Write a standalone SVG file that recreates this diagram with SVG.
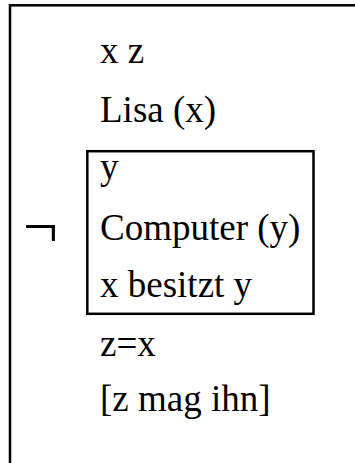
<svg xmlns="http://www.w3.org/2000/svg" width="355" height="463" viewBox="0 0 355 463">
  <style>
    .box { fill: none; stroke: #000; stroke-width: 2.5; }
    .t { font-family: "Liberation Serif", "Times New Roman", serif; font-size: 37px; fill: #000; }
    .neg { font-family: "Liberation Serif", "Times New Roman", serif; font-size: 62px; fill: #000; }
  </style>
  <rect width="355" height="463" fill="#fff"/>

  <!-- main DRS box (continues past the right and bottom edges) -->
  <g id="drs-main">
    <rect class="box" x="10" y="5.3" width="420" height="520"/>
    <text class="t" x="100" y="63">x z</text>
    <text class="t" x="100" y="122">Lisa (x)</text>
    <text class="t" x="100" y="356">z=x</text>
    <text class="t" x="100" y="411">[z mag ihn]</text>
  </g>

  <!-- negation operator -->
  <g id="negation">
    <text class="neg" x="23" y="247">¬</text>
  </g>

  <!-- negated sub-DRS -->
  <g id="drs-sub">
    <rect class="box" x="87.3" y="151.2" width="226.2" height="162.6"/>
    <text class="t" x="100" y="179">y</text>
    <text class="t" x="100" y="240">Computer (y)</text>
    <text class="t" x="100" y="297">x besitzt y</text>
  </g>

  <g id="connectors"/>
</svg>
